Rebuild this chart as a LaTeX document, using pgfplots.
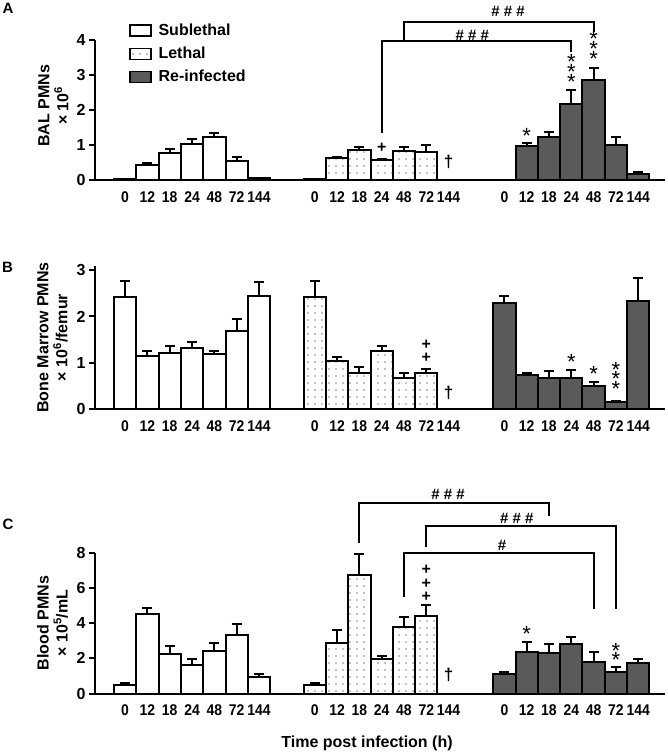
\documentclass[border=0pt]{standalone}
\usepackage{fontspec}
\setmainfont{Liberation Sans}
\newfontfamily\ticknarrow[FakeStretch=0.9]{Liberation Sans}
\usepackage{pgfplots}
\pgfplotsset{compat=1.18}
\usepackage{pgfplotstable}
\usetikzlibrary{patterns.meta}
\definecolor{reinf}{RGB}{90,90,90}

% Panel A
\pgfplotstableread{
x y e
0 0.02 0
1 0.43 0.06
2 0.76 0.12
3 1.03 0.13
4 1.24 0.11
5 0.55 0.12
6 0.05 0.01
}\Asub
\pgfplotstableread{
x y e
8.5 0.02 0
9.5 0.62 0.05
10.5 0.86 0.09
11.5 0.57 0.04
12.5 0.84 0.11
13.5 0.81 0.18
}\Aleth
\pgfplotstableread{
x y e
17 0.01 0
18 0.98 0.09
19 1.22 0.15
20 2.16 0.41
21 2.86 0.34
22 1.00 0.22
23 0.17 0.06
}\Areinf
% Panel B
\pgfplotstableread{
x y e
0 2.41 0.36
1 1.15 0.11
2 1.22 0.14
3 1.31 0.14
4 1.19 0.07
5 1.69 0.25
6 2.45 0.30
}\Bsub
\pgfplotstableread{
x y e
8.5 2.41 0.36
9.5 1.04 0.09
10.5 0.78 0.13
11.5 1.26 0.11
12.5 0.68 0.09
13.5 0.77 0.10
}\Bleth
\pgfplotstableread{
x y e
17 2.30 0.14
18 0.73 0.04
19 0.68 0.14
20 0.68 0.16
21 0.50 0.09
22 0.16 0.01
23 2.33 0.49
}\Breinf
% Panel C
\pgfplotstableread{
x y e
0 0.48 0.13
1 4.50 0.38
2 2.24 0.48
3 1.62 0.32
4 2.43 0.46
5 3.32 0.61
6 0.95 0.16
}\Csub
\pgfplotstableread{
x y e
8.5 0.48 0.13
9.5 2.85 0.76
10.5 6.72 1.18
11.5 1.96 0.19
12.5 3.76 0.60
13.5 4.40 0.61
}\Cleth
\pgfplotstableread{
x y e
17 1.09 0.15
18 2.38 0.56
19 2.32 0.47
20 2.81 0.42
21 1.81 0.57
22 1.24 0.25
23 1.72 0.22
}\Creinf

\pgfplotsset{
  panel/.style={
    scale only axis, width=570pt, xmin=-1.35, xmax=24.2, ymin=0,
    axis x line=bottom, axis y line=left,
    axis line style={line width=2pt, -},
    clip=false,
    xtick={0,1,2,3,4,5,6,8.5,9.5,10.5,11.5,12.5,13.5,14.5,17,18,19,20,21,22,23},
    xticklabels={0,12,18,24,48,72,144,0,12,18,24,48,72,144,0,12,18,24,48,72,144},
    x tick style={draw=none},
    y tick style={line width=2pt, black},
    tick align=outside, major tick length=6pt,
    yticklabel style={font=\bfseries\fontsize{16}{18}\selectfont},
    xticklabel style={font=\ticknarrow\bfseries\fontsize{15.5}{18}\selectfont, yshift=-2pt},
    /pgf/number format/assume math mode=true,
    ylabel style={font=\bfseries\fontsize{16}{19}\selectfont, align=center, anchor=center},
  },
  bars/.style={ybar, bar width=1, bar shift=0pt, draw=black, line width=2pt,
    error bars/y dir=plus, error bars/y explicit,
    error bars/error bar style={line width=2pt, black, solid},
    error bars/error mark options={line width=2pt, mark size=5pt, black, solid, rotate=90},
    legend image code/.code={\draw[##1, line width=1.4pt] (0pt,-5.5pt) rectangle (21pt,5.5pt);}},
  sub/.style={bars, fill=white},
  leth/.style={bars, pattern={Dots[distance=7pt, radius=0.7pt]}, pattern color=black},
  rei/.style={bars, fill=reinf},
}
\tikzset{
  brk/.style={line width=2pt, black},
  st/.style={font=\fontsize{22}{22}\selectfont, inner sep=0pt, text height=15pt, text depth=-10pt},
  pl/.style={font=\bfseries\fontsize{16}{16}\selectfont, inner sep=0pt, text height=8.6pt, text depth=-2.6pt},
  hs/.style={font=\bfseries\fontsize{15}{15}\selectfont, inner sep=0pt},
  dg/.style={font=\bfseries\fontsize{17}{17}\selectfont, inner sep=0pt},
}

\begin{document}
\begin{tikzpicture}
\useasboundingbox (0pt,0pt) rectangle (667pt,-754pt);

% ---------- Panel A ----------
\begin{axis}[panel, at={(95pt,-180pt)}, anchor=south west, height=140pt,
  ymax=4, ytick={0,1,2,3,4},
  ylabel={BAL PMNs\\× 10\textsuperscript{6}},
  ylabel style={at={(axis description cs:-0.0728,0.53)}},
  legend cell align=left,
  legend style={at={(axis description cs:0.0596,1.129)}, anchor=north west,
    draw=none, fill=none, inner sep=0pt, row sep=6pt, column sep=5pt,
    font=\bfseries\fontsize{16}{16}\selectfont},
]
\addplot[sub] table[x=x, y=y, y error=e] {\Asub};
\addlegendentry{Sublethal}
\addplot[leth] table[x=x, y=y, y error=e] {\Aleth};
\addlegendentry{Lethal}
\addplot[rei] table[x=x, y=y, y error=e] {\Areinf};
\addlegendentry{Re-infected}
\node[pl] at (axis cs:11.5,0.92) {+};
\node[dg] at (axis cs:14.5,0.51) {†};
\node[st] at (axis cs:18,1.26) {*};
\node[st] at (axis cs:20,3.37) {*};
\node[st] at (axis cs:20,3.09) {*};
\node[st] at (axis cs:20,2.80) {*};
\node[st] at (axis cs:21,4.03) {*};
\node[st] at (axis cs:21,3.74) {*};
\node[st] at (axis cs:21,3.46) {*};
\draw[brk] (axis cs:11.5,1.34) -- (axis cs:11.5,3.97) -- (axis cs:20,3.97) -- (axis cs:20,3.66);
\draw[brk] (axis cs:12.5,3.97) -- (axis cs:12.5,4.52) -- (axis cs:21,4.52) -- (axis cs:21,4.24);
\node[hs] at (axis cs:15.56,4.14) {\# \# \#};
\node[hs] at (axis cs:17.17,4.83) {\# \# \#};
\end{axis}

% ---------- Panel B ----------
\begin{axis}[panel, at={(95pt,-409pt)}, anchor=south west, height=143pt,
  ymax=3.09, ytick={0,1,2,3},
  ylabel={Bone Marrow PMNs\\× 10\textsuperscript{6}/femur},
  ylabel style={at={(axis description cs:-0.0746,0.5)}},
]
\addplot[sub] table[x=x, y=y, y error=e] {\Bsub};
\addplot[leth] table[x=x, y=y, y error=e] {\Bleth};
\addplot[rei] table[x=x, y=y, y error=e] {\Breinf};
\node[pl] at (axis cs:13.5,1.38) {+};
\node[pl] at (axis cs:13.5,1.10) {+};
\node[dg] at (axis cs:14.5,0.35) {†};
\node[st] at (axis cs:20,1.01) {*};
\node[st] at (axis cs:21,0.75) {*};
\node[st] at (axis cs:22,0.84) {*};
\node[st] at (axis cs:22,0.64) {*};
\node[st] at (axis cs:22,0.43) {*};
\end{axis}

% ---------- Panel C ----------
\begin{axis}[panel, at={(95pt,-693.5pt)}, anchor=south west, height=141pt,
  ymax=8, ytick={0,2,4,6,8},
  ylabel={Blood PMNs\\× 10\textsuperscript{5}/mL},
  ylabel style={at={(axis description cs:-0.0746,0.5)}},
]
\addplot[sub] table[x=x, y=y, y error=e] {\Csub};
\addplot[leth] table[x=x, y=y, y error=e] {\Cleth};
\addplot[rei] table[x=x, y=y, y error=e] {\Creinf};
\node[pl] at (axis cs:13.5,6.98) {+};
\node[pl] at (axis cs:13.5,6.20) {+};
\node[pl] at (axis cs:13.5,5.47) {+};
\node[dg] at (axis cs:14.5,1.05) {†};
\node[st] at (axis cs:18,3.38) {*};
\node[st] at (axis cs:22,2.41) {*};
\node[st] at (axis cs:22,1.90) {*};
\draw[brk] (axis cs:10.5,8.53) -- (axis cs:10.5,10.8) -- (axis cs:19,10.8) -- (axis cs:19,10.05);
\draw[brk] (axis cs:13.5,8.30) -- (axis cs:13.5,9.52) -- (axis cs:22,9.52) -- (axis cs:22,4.8);
\draw[brk] (axis cs:12.5,5.47) -- (axis cs:12.5,8.0) -- (axis cs:21,8.0) -- (axis cs:21,4.8);
\node[hs] at (axis cs:14.48,11.28) {\# \# \#};
\node[hs] at (axis cs:17.56,9.95) {\# \# \#};
\node[hs] at (axis cs:16.89,8.38) {\#};
\end{axis}

% panel letters and common x label
\node[font=\bfseries\fontsize{15}{15}\selectfont] at (8pt,-8pt) {A};
\node[font=\bfseries\fontsize{15}{15}\selectfont] at (7.5pt,-267pt) {B};
\node[font=\bfseries\fontsize{15}{15}\selectfont] at (8pt,-524pt) {C};
\node[font=\bfseries\fontsize{16}{16}\selectfont] at (367pt,-743pt) {Time post infection (h)};
\end{tikzpicture}
\end{document}
